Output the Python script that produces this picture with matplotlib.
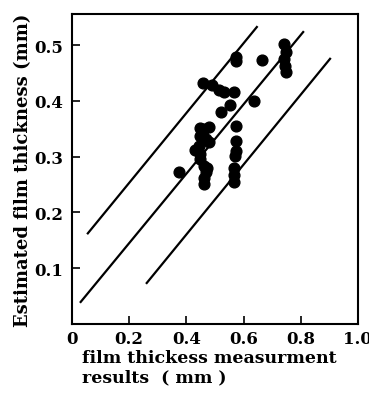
import numpy as np
import matplotlib.pyplot as plt

# measured vs. estimated film thickness (mm)
measured = [0.373, 0.458, 0.572, 0.575, 0.665, 0.742, 0.748, 0.742, 0.745, 0.748,
            0.490, 0.513, 0.530, 0.565, 0.552, 0.520, 0.636,
            0.572, 0.572, 0.572, 0.570, 0.565, 0.565, 0.565,
            0.449, 0.463, 0.478, 0.449, 0.470, 0.480, 0.431, 0.449,
            0.449, 0.460, 0.473, 0.467, 0.460, 0.460, 0.455, 0.445]
estimated = [0.273, 0.432, 0.478, 0.472, 0.474, 0.502, 0.488, 0.475, 0.462, 0.452,
             0.428, 0.420, 0.416, 0.416, 0.393, 0.380, 0.400,
             0.355, 0.328, 0.310, 0.302, 0.280, 0.268, 0.254,
             0.352, 0.350, 0.354, 0.337, 0.332, 0.326, 0.312, 0.305,
             0.295, 0.283, 0.280, 0.272, 0.262, 0.251, 0.340, 0.320]

# three reference lines (x0, y0, x1, y1)
upper = [0.053, 0.161, 0.649, 0.534]
middle = [0.028, 0.038, 0.811, 0.525]
lower = [0.259, 0.072, 0.905, 0.477]

plt.rcParams['font.family'] = ['DejaVu Serif']
plt.rcParams['font.weight'] = 'bold'

fig = plt.figure(figsize=(3.69, 4.02), dpi=100)
ax = fig.add_axes([0.195, 0.1915, 0.775, 0.7715])

for ln in [upper, middle, lower]:
    ax.plot([ln[0], ln[2]], [ln[1], ln[3]], color='black', lw=1.6,
            solid_capstyle='butt')

ax.scatter(measured, estimated, s=60, color='black', zorder=3)

ax.set_xlim(0, 1.0)
ax.set_ylim(0, 0.556)
ax.set_xticks([0, 0.2, 0.4, 0.6, 0.8, 1.0])
ax.set_xticklabels(['0', '0.2', '0.4', '0.6', '0.8', '1.0'])
ax.set_yticks([0.1, 0.2, 0.3, 0.4, 0.5])
ax.set_yticklabels(['0.1', '0.2', '0.3', '0.4', '0.5'])
ax.tick_params(direction='in', length=6, width=1.2, labelsize=12, pad=6)
ax.tick_params(axis='x', pad=4)
for sp in ax.spines.values():
    sp.set_linewidth(1.5)

ax.set_ylabel('Estimated film thickness (mm)', fontsize=13,
              fontweight='bold', labelpad=2)
ax.set_xlabel('film thickess measurment\nresults  ( mm )', fontsize=12.5,
              fontweight='bold', loc='left', linespacing=1.2)
ax.xaxis.set_label_coords(0.035, -0.08, transform=ax.transAxes)
ax.xaxis.label.set_verticalalignment('top')

fig.savefig('out.png', dpi=100)
